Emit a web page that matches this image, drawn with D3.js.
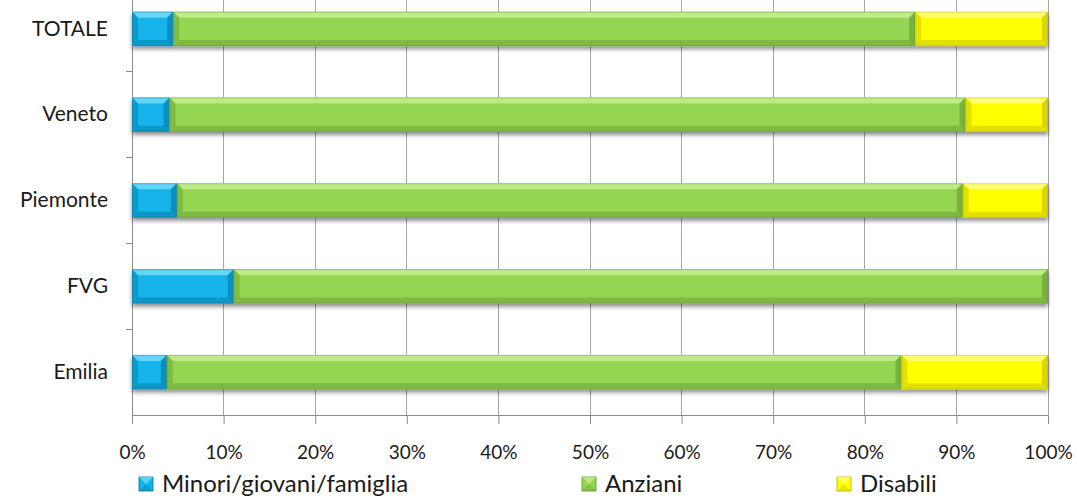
<!DOCTYPE html>
<html>
<head>
<meta charset="utf-8">
<script src="https://cdn.jsdelivr.net/npm/d3@7"></script>
<style>
  html, body { margin: 0; padding: 0; background: #fff; }
  svg { display: block; }
  svg text { font-family: Lato, "Open Sans", sans-serif; }
</style>
</head>
<body>
<svg id="chart" width="1077" height="500"></svg>
<script>
// Regions, top to bottom
const categories = ["TOTALE", "Veneto", "Piemonte", "FVG", "Emilia"];
// Share of each user group (percent)
const minori  = [4.5, 4.1, 4.9, 11.1, 3.8];
const anziani = [81.0, 86.9, 85.8, 88.9, 80.2];
const disabili = [14.5, 9.0, 9.3, 0.0, 16.0];
const seriesNames = ["Minori/giovani/famiglia", "Anziani", "Disabili"];
const xTicks = [0, 10, 20, 30, 40, 50, 60, 70, 80, 90, 100];

const palette = [
  { base: "#12b4ea", light: "#6fd9f8", dark: "#0a7fa8", edge: "#0e6f93" },
  { base: "#94d551", light: "#c3ec8e", dark: "#6da336", edge: "#5b8c2a" },
  { base: "#ffff00", light: "#ffff80", dark: "#c9c400", edge: "#b3ad00" }
];

const svg = d3.select("#chart");
const plotL = 132, plotR = 1048, plotT = -14, plotB = 415;

const x = d3.scaleLinear().domain([0, 100]).range([plotL, plotR]);
const y = d3.scaleBand().domain(categories).range([plotT, plotB]).paddingInner(0.6).paddingOuter(0.3);

// shadow filter under bars
const defs = svg.append("defs");
const f = defs.append("filter").attr("id", "shadow").attr("x", "-5%").attr("y", "-30%").attr("width", "110%").attr("height", "180%");
f.append("feGaussianBlur").attr("in", "SourceAlpha").attr("stdDeviation", 2.2).attr("result", "b");
f.append("feOffset").attr("in", "b").attr("dx", 0).attr("dy", 3).attr("result", "o");
f.append("feComponentTransfer").attr("in", "o").attr("result", "s")
  .append("feFuncA").attr("type", "linear").attr("slope", 0.45);
const m = f.append("feMerge");
m.append("feMergeNode").attr("in", "s");
m.append("feMergeNode").attr("in", "SourceGraphic");

// vertical gridlines
svg.append("g").selectAll("line").data(xTicks.slice(1)).join("line")
  .attr("x1", d => x(d)).attr("x2", d => x(d))
  .attr("y1", plotT).attr("y2", plotB)
  .attr("stroke", "#a6a6a6").attr("stroke-width", 1).attr("shape-rendering", "crispEdges");

// category axis
const yAxis = svg.append("g").attr("transform", `translate(${plotL},0)`)
  .call(d3.axisLeft(y).tickSize(0).tickPadding(24));
yAxis.attr("font-family", null);
yAxis.select(".domain").attr("stroke", "#8c8c8c");
yAxis.selectAll("text").attr("font-size", 21).attr("fill", "#1a1a1a");
// tick marks between categories
const bounds = d3.range(1, categories.length).map(i => y.step() * i + plotT);
svg.append("g").selectAll("line").data(bounds).join("line")
  .attr("x1", plotL - 6).attr("x2", plotL).attr("y1", d => d).attr("y2", d => d)
  .attr("stroke", "#8c8c8c").attr("shape-rendering", "crispEdges");

// value axis
const xAxis = svg.append("g").attr("transform", `translate(0,${plotB})`)
  .call(d3.axisBottom(x).tickValues(xTicks).tickSize(9).tickPadding(22).tickFormat(d => d + "%"));
xAxis.attr("font-family", null);
xAxis.select(".domain").attr("stroke", "#8c8c8c").attr("d", `M${plotL},0.5H${plotR}`);
xAxis.selectAll(".tick line").attr("stroke", "#8c8c8c");
xAxis.selectAll("text").attr("font-size", 19).attr("fill", "#1a1a1a");

// stacked bars with bevel
const stackData = categories.map((c, i) => ({ cat: c, s0: minori[i], s1: anziani[i], s2: disabili[i] }));
const stack = d3.stack().keys(["s0", "s1", "s2"])(stackData);

const bev = 6;
function drawBevel(g, x0, x1, y0, h, col) {
  const w = x1 - x0;
  if (w <= 0) return;
  const b = Math.min(bev, w / 2);
  g.append("rect").attr("x", x0).attr("y", y0).attr("width", w).attr("height", h).attr("fill", col.base);
  // top highlight
  g.append("path").attr("d", `M${x0},${y0}H${x1}L${x1 - b},${y0 + b}H${x0 + b}Z`).attr("fill", col.light).attr("opacity", 0.9);
  // bottom shade
  g.append("path").attr("d", `M${x0},${y0 + h}H${x1}L${x1 - b},${y0 + h - b}H${x0 + b}Z`).attr("fill", col.dark).attr("opacity", 0.55);
  // left shade
  g.append("path").attr("d", `M${x0},${y0}L${x0 + b},${y0 + b}V${y0 + h - b}L${x0},${y0 + h}Z`).attr("fill", col.dark).attr("opacity", 0.5);
  // right shade
  g.append("path").attr("d", `M${x1},${y0}L${x1 - b},${y0 + b}V${y0 + h - b}L${x1},${y0 + h}Z`).attr("fill", col.dark).attr("opacity", 0.7);
  g.append("rect").attr("x", x0 + 0.5).attr("y", y0 + 0.5).attr("width", w - 1).attr("height", h - 1)
    .attr("fill", "none").attr("stroke", col.edge).attr("stroke-opacity", 0.35);
}

const barsG = svg.append("g").attr("filter", "url(#shadow)");
stack.forEach((layer, si) => {
  layer.forEach(d => {
    const g = barsG.append("g");
    drawBevel(g, x(d[0]), x(d[1]), y(d.data.cat), y.bandwidth(), palette[si]);
  });
});

// legend
const legendX = [139, 582, 837];
const legend = svg.append("g");
seriesNames.forEach((name, i) => {
  const g = legend.append("g").attr("transform", `translate(${legendX[i]},477)`);
  const col = palette[i];
  g.append("rect").attr("width", 14).attr("height", 14).attr("fill", col.base).attr("stroke", col.edge).attr("stroke-width", 0.8);
  g.append("path").attr("d", "M0,0L7,7L14,0").attr("fill", col.light).attr("opacity", 0.8);
  g.append("path").attr("d", "M0,14L7,7L14,14").attr("fill", col.dark).attr("opacity", 0.4);
  g.append("text").attr("x", 23).attr("y", 7).attr("dy", "0.35em")
    .attr("font-size", 24).attr("fill", "#1a1a1a").text(name);
});
</script>
</body>
</html>
